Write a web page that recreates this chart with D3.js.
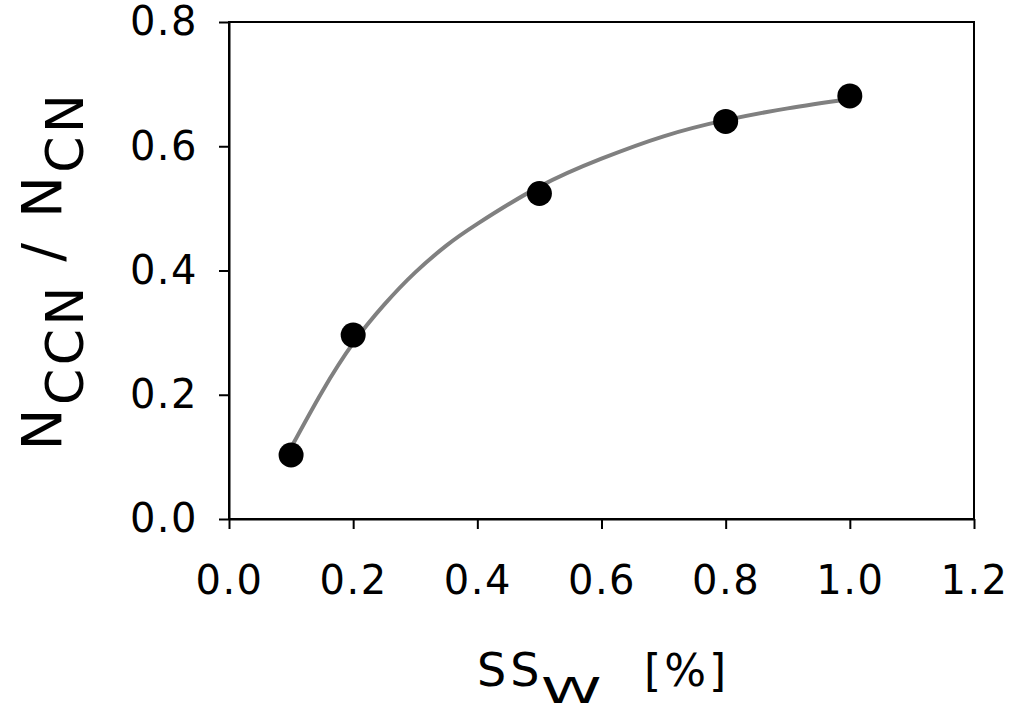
<!DOCTYPE html>
<html>
<head>
<meta charset="utf-8">
<script src="https://cdn.jsdelivr.net/npm/d3@7"></script>
<style>
  body { margin: 0; background: #fff; }
  text { font-family: "DejaVu Sans", sans-serif; fill: #000; }
</style>
</head>
<body>
<div id="chart"></div>
<script>
// measured points
const ssw = [0.1, 0.2, 0.5, 0.8, 1.0];
const ratio = [0.103, 0.296, 0.524, 0.640, 0.681];

// fitted curve
const fitX = [0.1, 0.15, 0.2, 0.25, 0.3, 0.35, 0.4, 0.5, 0.6, 0.7, 0.8, 0.9, 1.0];
const fitY = [0.115, 0.205, 0.283, 0.345, 0.397, 0.440, 0.475, 0.535, 0.580, 0.616, 0.642, 0.661, 0.676];

// tick labels
const xTicks = [0, 0.2, 0.4, 0.6, 0.8, 1.0, 1.2];
const yTicks = [0, 0.2, 0.4, 0.6, 0.8];

const width = 1014, height = 711;
const margin = { top: 22, right: 40, bottom: 192, left: 229 };

const svg = d3.select("#chart").append("svg")
    .attr("width", width)
    .attr("height", height)
    .style("display", "block");

const x = d3.scaleLinear().domain([0, 1.2]).range([margin.left, width - margin.right]);
const y = d3.scaleLinear().domain([0, 0.8]).range([height - margin.bottom, margin.top]);

// frame (top + right)
svg.append("rect")
    .attr("x", x(0)).attr("y", y(0.8))
    .attr("width", x(1.2) - x(0)).attr("height", y(0) - y(0.8))
    .attr("fill", "none").attr("stroke", "#000").attr("stroke-width", 2);

// x axis
const gx = svg.append("g")
    .attr("transform", `translate(0,${y(0)})`)
    .call(d3.axisBottom(x).tickValues(xTicks).tickFormat(d3.format(".1f"))
        .tickSize(10).tickSizeOuter(0).tickPadding(37));

// y axis
const gy = svg.append("g")
    .attr("transform", `translate(${x(0)},0)`)
    .call(d3.axisLeft(y).tickValues(yTicks).tickFormat(d3.format(".1f"))
        .tickSize(10).tickSizeOuter(0).tickPadding(21));

[gx, gy].forEach(g => {
    g.select(".domain").attr("stroke", "#000").attr("stroke-width", 2);
    g.selectAll(".tick line").attr("stroke", "#000").attr("stroke-width", 2);
    g.selectAll(".tick text")
        .attr("font-family", "DejaVu Sans")
        .attr("font-size", 40)
        .attr("letter-spacing", 1.5)
        .attr("fill", "#000");
});

// fit curve
const line = d3.line()
    .x((d, i) => x(fitX[i]))
    .y(d => y(d))
    .curve(d3.curveNatural);

svg.append("path")
    .datum(fitY)
    .attr("d", line)
    .attr("fill", "none")
    .attr("stroke", "#808080")
    .attr("stroke-width", 4);

// points
svg.append("g")
    .selectAll("circle")
    .data(ratio)
    .join("circle")
    .attr("cx", (d, i) => x(ssw[i]))
    .attr("cy", d => y(d))
    .attr("r", 12.5)
    .attr("fill", "#000");

// x title: SS_W [%]  (the W is drawn wide like the original font)
svg.append("text")
    .attr("x", 477).attr("y", 686)
    .attr("font-size", 46).attr("letter-spacing", 4)
    .text("SS");
svg.append("text")
    .attr("transform", "translate(541,703) scale(1.7,1)")
    .attr("font-size", 36)
    .text("W");
svg.append("text")
    .attr("x", 644).attr("y", 686)
    .attr("font-size", 44).attr("letter-spacing", 3)
    .text("[%]");

// y title
const yt = svg.append("text")
    .attr("transform", `translate(61,${(y(0) + y(0.8)) / 2}) rotate(-90)`)
    .attr("text-anchor", "middle")
    .attr("font-size", 56)
    .attr("letter-spacing", 3.5);
yt.append("tspan").text("N");
yt.append("tspan").attr("font-size", 52).attr("dy", 22).text("CCN");
yt.append("tspan").attr("dy", -22).text(" / N");
yt.append("tspan").attr("font-size", 52).attr("dy", 22).text("CN");
</script>
</body>
</html>
